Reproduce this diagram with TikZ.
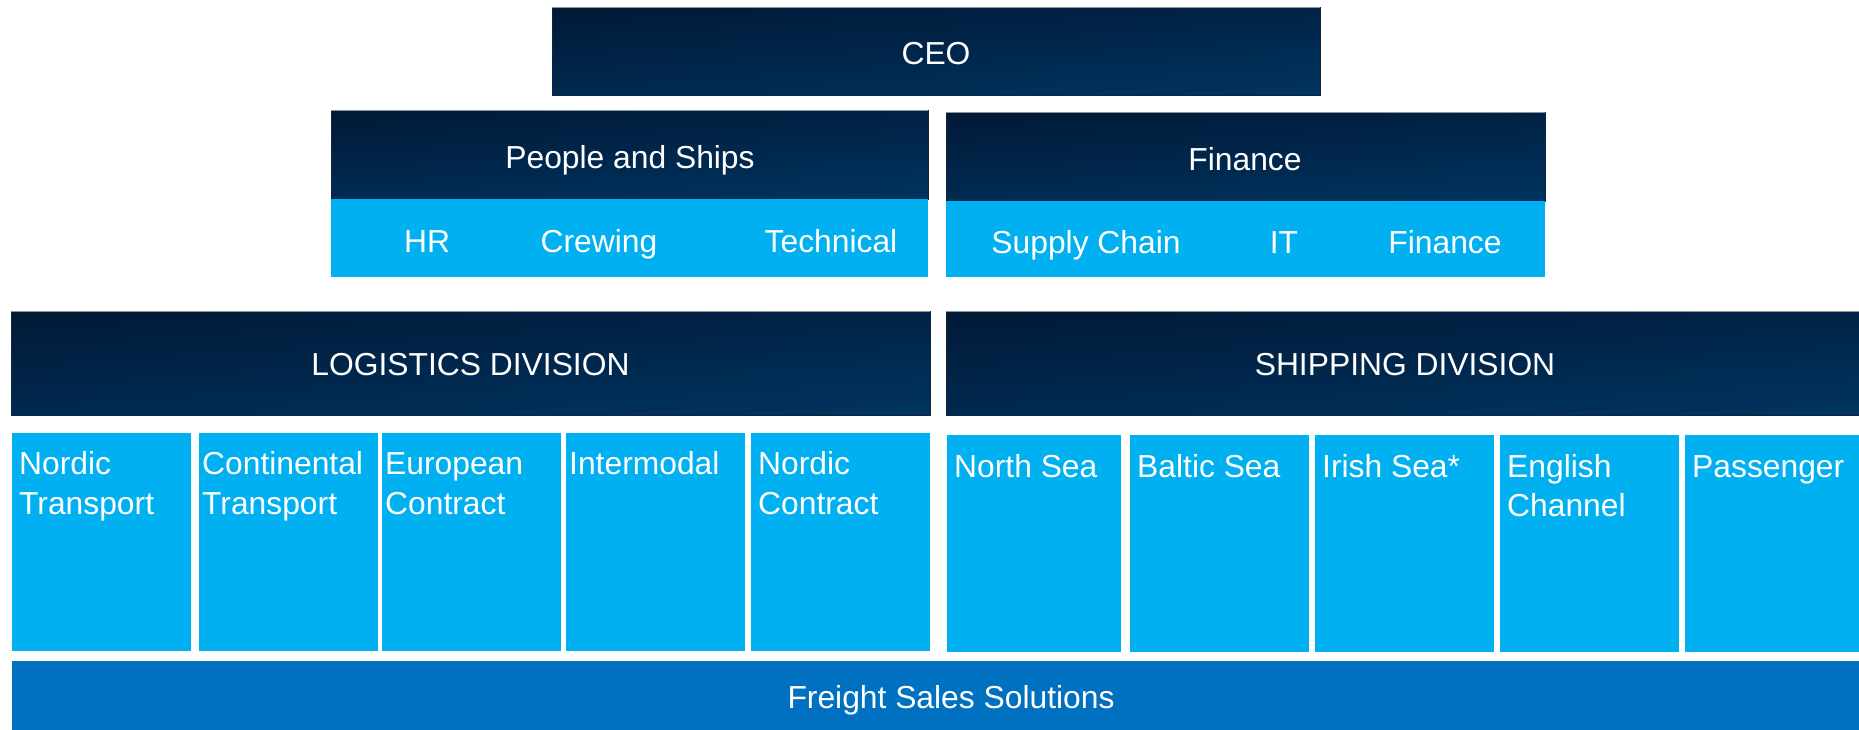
\documentclass[tikz,border=0pt]{standalone}
\usepackage{fontspec}
\setmainfont{Liberation Sans}
\usetikzlibrary{calc}

\definecolor{navytop}{HTML}{011A38}
\definecolor{navybot}{HTML}{00335F}
\definecolor{headedge}{HTML}{13233A}
\definecolor{headrim}{HTML}{8E949C}
\definecolor{unitblue}{HTML}{00B0F0}
\definecolor{salesblue}{HTML}{0070C0}

\newcommand\orgfont{\fontsize{31.8}{39.5}\selectfont}
\newcommand\twolines[2]{\vtop{\hbox{#1}\hbox{#2}}}

% a box given by its top-left and bottom-right corners (in px, y downwards)
\newcommand\orgbox[6]{%
  \node[#1, minimum width={(#5-#3)*1pt}, minimum height={(#6-#4)*1pt}]
    (#2) at (#3,#4) {};}

\tikzset{
  boxbase/.style={anchor=north west, inner sep=0pt, outer sep=0pt},
  header/.style={boxbase, top color=navytop, bottom color=navybot,
    shading angle=4, draw=headedge, line width=1pt},
  unit/.style={boxbase, fill=unitblue},
  sales/.style={boxbase, fill=salesblue},
  rim/.style={draw=headrim, line width=1pt},
  lbl/.style={text=white, inner sep=0pt, anchor=base, font=\orgfont},
  unitlbl/.style={text=white, inner sep=0pt, anchor=base west, font=\orgfont},
}

\begin{document}
\begin{tikzpicture}[x=1pt, y=-1pt]
  \useasboundingbox (0,0) rectangle (1859,730);
  \clip (0,0) rectangle (1859,730);

  % top management
  \orgbox{header}{ceo}{552}{8}{1320}{96}
  \orgbox{header}{psh}{331}{111}{928}{199}
  \orgbox{unit}{pss}{331}{199}{928}{277}
  \orgbox{header}{fih}{946}{113}{1545}{201}
  \orgbox{unit}{fis}{946}{201}{1545}{277}
  \draw[rim] (ceo.north west) -- (ceo.north east);
  \draw[rim] (psh.north west) -- (psh.north east);
  \draw[rim] (fih.north west) -- (fih.north east);

  \node[lbl] (tceo) at (936,65) {CEO};
  \node[lbl] (tpsh) at (630,168) {People and Ships};
  \node[lbl] (thr) at (427,252.5) {HR};
  \node[lbl] (tcrew) at (599,252.5) {Crewing};
  \node[lbl] (ttech) at (831,252.5) {Technical};
  \node[lbl] (tfih) at (1245,170.5) {Finance};
  \node[lbl] (tsc) at (1086,253.5) {Supply Chain};
  \node[lbl] (tit) at (1284,253.5) {IT};
  \node[lbl] (tfin) at (1445,253.5) {Finance};

  % divisions
  \orgbox{header}{log}{11}{311}{930}{415}
  \orgbox{header}{ship}{946}{311}{1864}{415}
  \draw[rim] (log.north west) -- (log.north east);
  \draw[rim] (ship.north west) -- (ship.north east);
  \node[lbl] (tlog) at (470.5,375) {LOGISTICS DIVISION};
  \node[lbl] (tship) at (1405,375) {SHIPPING DIVISION};

  % logistics business units
  \orgbox{unit}{lu1}{12}{433}{191}{651}
  \orgbox{unit}{lu2}{199}{433}{378}{651}
  \orgbox{unit}{lu3}{382}{433}{561}{651}
  \orgbox{unit}{lu4}{566}{433}{745}{651}
  \orgbox{unit}{lu5}{751}{433}{930}{651}
  \node[unitlbl] (tlu1) at ($(lu1.north west)+(7,41.5)$) {\twolines{Nordic}{Transport}};
  \node[unitlbl] (tlu2) at ($(lu2.north west)+(3,41.5)$) {\twolines{Continental}{Transport}};
  \node[unitlbl] (tlu3) at ($(lu3.north west)+(3,41.5)$) {\twolines{European}{Contract}};
  \node[unitlbl] (tlu4) at ($(lu4.north west)+(3,41.5)$) {Intermodal};
  \node[unitlbl] (tlu5) at ($(lu5.north west)+(7,41.5)$) {\twolines{Nordic}{Contract}};

  % shipping business units
  \orgbox{unit}{su1}{947}{435}{1121}{652}
  \orgbox{unit}{su2}{1130}{435}{1309}{652}
  \orgbox{unit}{su3}{1315}{435}{1494}{652}
  \orgbox{unit}{su4}{1500}{435}{1679}{652}
  \orgbox{unit}{su5}{1685}{435}{1864}{652}
  \node[unitlbl] (tsu1) at ($(su1.north west)+(7,42)$) {North Sea};
  \node[unitlbl] (tsu2) at ($(su2.north west)+(7,42)$) {Baltic Sea};
  \node[unitlbl] (tsu3) at ($(su3.north west)+(7,42)$) {Irish Sea*};
  \node[unitlbl] (tsu4) at ($(su4.north west)+(7,42)$) {\twolines{English}{Channel}};
  \node[unitlbl] (tsu5) at ($(su5.north west)+(7,42)$) {Passenger};

  % shared sales function
  \orgbox{sales}{fss}{12}{661}{1864}{735}
  \node[lbl] (tfss) at (951,708) {Freight Sales Solutions};
\end{tikzpicture}
\end{document}
